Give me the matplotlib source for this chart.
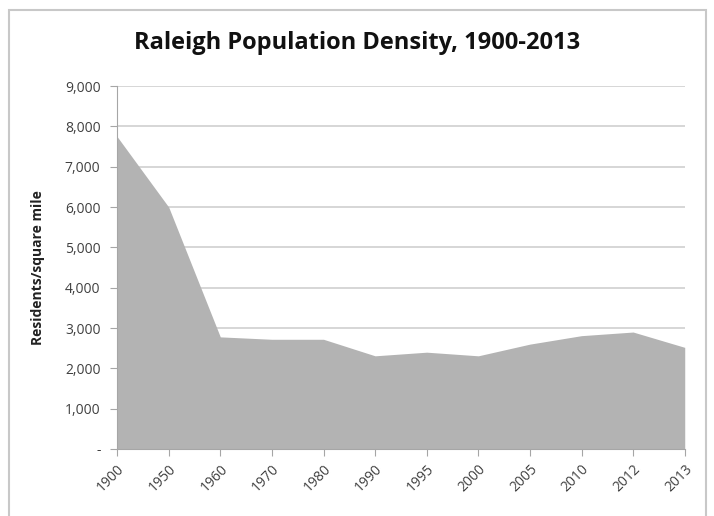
import matplotlib
matplotlib.use("Agg")
import matplotlib.pyplot as plt
from matplotlib.ticker import FuncFormatter

years = ["1900", "1950", "1960", "1970", "1980", "1990", "1995", "2000", "2005", "2010", "2012", "2013"]
density = [7750, 6000, 2780, 2720, 2720, 2310, 2400, 2310, 2600, 2810, 2900, 2520]

plt.rcParams['font.family'] = ['Open Sans', 'DejaVu Sans']

fig = plt.figure(figsize=(7.14, 5.16), dpi=100)
ax = fig.add_axes([0.164, 0.130, 0.795, 0.703])

x = list(range(len(years)))
ax.fill_between(x, density, 0, color='#b3b3b3', linewidth=0, zorder=2)
ax.set_xlim(0, len(years) - 1)
ax.set_ylim(0, 9000)
ax.set_yticks(range(0, 9001, 1000))
ax.yaxis.set_major_formatter(FuncFormatter(lambda v, p: '-' if v == 0 else f'{int(v):,}'))
ax.set_xticks(x)
ax.set_xticklabels(years, rotation=45, ha='right', va='top', rotation_mode='anchor')
ax.grid(axis='y', color='#d0d0d0', linewidth=1.2, zorder=1)
for s in ['top', 'right']:
    ax.spines[s].set_visible(False)
for s in ['left', 'bottom']:
    ax.spines[s].set_color('#a6a6a6')
ax.tick_params(axis='both', colors='#a6a6a6', labelcolor='#404040', labelsize=10, length=5, direction='out')
ax.tick_params(axis='y', pad=7)
ax.tick_params(axis='x', pad=4)
ax.set_ylabel('Residents/square mile', fontsize=10, fontweight='bold', color='#222222', labelpad=14)
fig.suptitle('Raleigh Population Density, 1900-2013', fontsize=17, fontweight='bold', y=0.94, color='#111111')

fig.add_artist(plt.Rectangle((9 / 714, -0.05), 697 / 714, 1.05 - 10 / 516, transform=fig.transFigure,
                             fill=False, edgecolor='#c8c8c8', linewidth=1.5))
fig.savefig('out.png', dpi=100)
